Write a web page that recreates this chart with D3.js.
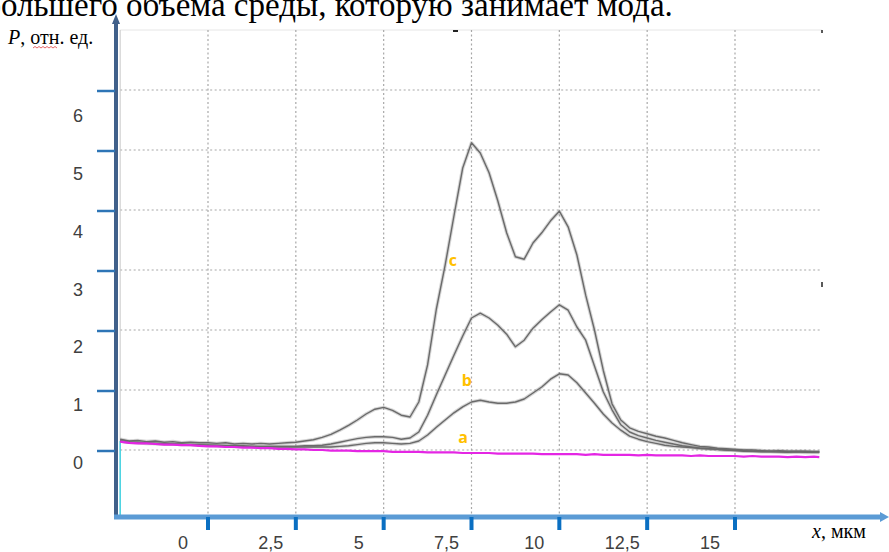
<!DOCTYPE html>
<html><head><meta charset="utf-8">
<script src="https://cdn.jsdelivr.net/npm/d3@7"></script>
<style>
html,body{margin:0;padding:0;background:#fff;overflow:hidden}
svg{display:block}
</style></head>
<body>
<svg id="chart" width="889" height="552"></svg>
<script>
// ---- data ----
const xValues = [-2.5,-2.25,-2,-1.75,-1.5,-1.25,-1,-0.75,-0.5,-0.25,
  0,0.25,0.5,0.75,1,1.25,1.5,1.75,2,2.25,
  2.5,2.75,3,3.25,3.5,3.75,4,4.25,4.5,4.75,
  5,5.25,5.5,5.75,6,6.25,6.5,6.75,7,7.25,
  7.5,7.75,8,8.25,8.5,8.75,9,9.25,9.5,9.75,
  10,10.25,10.5,10.75,11,11.25,11.5,11.75,12,12.25,
  12.5,12.75,13,13.25,13.5,13.75,14,14.25,14.5,14.75,
  15,15.25,15.5,15.75,16,16.25,16.5,16.75,17,17.25,17.4];
const curveC = [0.18,0.15,0.16,0.14,0.15,0.13,0.14,0.12,0.13,0.12,
  0.12,0.11,0.12,0.10,0.11,0.10,0.11,0.10,0.11,0.12,
  0.13,0.15,0.17,0.21,0.26,0.33,0.41,0.50,0.60,0.68,
  0.71,0.66,0.58,0.55,0.80,1.42,2.35,3.08,3.90,4.70,
  5.12,4.95,4.62,4.15,3.62,3.22,3.18,3.45,3.62,3.82,
  3.98,3.72,3.25,2.58,2.00,1.33,0.77,0.50,0.37,0.31,
  0.27,0.23,0.20,0.16,0.12,0.09,0.06,0.05,0.03,0.02,
  0.01,0.00,0.00,-0.01,-0.02,-0.01,-0.02,-0.02,-0.02,-0.03,-0.03];
const curveB = [0.15,0.13,0.13,0.12,0.11,0.11,0.10,0.10,0.09,0.09,
  0.08,0.08,0.07,0.07,0.07,0.06,0.06,0.06,0.06,0.06,
  0.06,0.07,0.07,0.08,0.10,0.13,0.16,0.19,0.21,0.22,
  0.22,0.21,0.18,0.20,0.30,0.58,0.92,1.25,1.58,1.90,
  2.20,2.28,2.20,2.08,1.93,1.72,1.83,2.03,2.17,2.30,
  2.42,2.33,2.05,1.83,1.40,0.97,0.67,0.42,0.30,0.24,
  0.20,0.16,0.13,0.10,0.07,0.05,0.03,0.02,0.01,0.00,
  -0.01,-0.02,-0.02,-0.03,-0.03,-0.03,-0.04,-0.03,-0.04,-0.04,-0.04];
const curveA = [0.15,0.13,0.12,0.11,0.11,0.10,0.10,0.09,0.09,0.08,
  0.08,0.07,0.07,0.06,0.06,0.06,0.05,0.05,0.05,0.05,
  0.05,0.05,0.05,0.05,0.05,0.06,0.07,0.09,0.11,0.12,
  0.12,0.11,0.10,0.11,0.15,0.25,0.38,0.50,0.62,0.72,
  0.80,0.83,0.80,0.78,0.78,0.80,0.85,0.95,1.05,1.18,
  1.27,1.25,1.12,0.95,0.78,0.60,0.45,0.33,0.23,0.18,
  0.14,0.11,0.08,0.06,0.05,0.04,0.03,0.02,0.01,0.00,
  0.00,-0.01,-0.02,-0.02,-0.02,-0.03,-0.03,-0.03,-0.03,-0.03,-0.03];
const baseline = [0.14,0.12,0.11,0.11,0.10,0.09,0.09,0.08,0.08,0.07,
  0.06,0.06,0.05,0.05,0.04,0.04,0.03,0.03,0.02,0.02,
  0.01,0.01,0.00,0.00,-0.01,-0.01,-0.01,-0.02,-0.02,-0.02,
  -0.02,-0.03,-0.03,-0.03,-0.03,-0.04,-0.04,-0.04,-0.04,-0.05,
  -0.05,-0.05,-0.05,-0.06,-0.06,-0.06,-0.06,-0.06,-0.07,-0.07,
  -0.07,-0.07,-0.07,-0.08,-0.07,-0.08,-0.08,-0.08,-0.08,-0.09,
  -0.08,-0.09,-0.09,-0.09,-0.09,-0.10,-0.09,-0.10,-0.10,-0.10,
  -0.10,-0.11,-0.10,-0.11,-0.11,-0.11,-0.12,-0.11,-0.12,-0.11,-0.12];
const xTicks = [0,2.5,5,7.5,10,12.5,15];
const xTickLabels = ["0","2,5","5","7,5","10","12,5","15"];
const yTicks = [0,1,2,3,4,5,6];
const curveLabels = ["a","b","c"];
const curveLabelX = [7.26,7.37,6.97];
const curveLabelY = [0.12,1.07,3.07];
const titleText = "большего объема среды, которую занимает мода.";
const yAxisTitle = ["P", ", отн. ед."];
const xAxisTitle = ["x", ", мкм"];

// ---- drawing ----
const svg = d3.select("#chart");
const x = d3.scaleLinear().domain([0,15]).range([208,735]);
const y = d3.scaleLinear().domain([0,7]).range([450,30]);
const plotLeft = x(-2.5), plotRight = 822, plotTop = y(7), axisY = 517, axisX = 116;
const yLabelPos = d3.scaleLinear().domain([0,6]).range([y(0)+19, y(6)+32]);

// title (cropped at top-left, as in the source figure)
const tmp = svg.append("text").attr("font-family","Liberation Serif").attr("font-size",33).text("б");
const bw = tmp.node().getComputedTextLength(); tmp.remove();
svg.append("text").attr("x",-bw+1).attr("y",16)
  .attr("font-family","Liberation Serif, Times New Roman, serif").attr("font-size",33)
  .attr("fill","#000").text(titleText);

// grid
const g = svg.append("g");
g.append("line").attr("x1",plotLeft).attr("x2",plotRight).attr("y1",plotTop).attr("y2",plotTop)
  .attr("stroke","#e6e6e6").attr("stroke-width",1);
g.selectAll(".hg").data(yTicks).join("line")
  .attr("x1",plotLeft).attr("x2",plotRight).attr("y1",d=>y(d)).attr("y2",d=>y(d))
  .attr("stroke","#a8a8a8").attr("stroke-width",1.2).attr("stroke-dasharray","2,2.5");
g.selectAll(".vg").data(xTicks).join("line")
  .attr("x1",d=>x(d)).attr("x2",d=>x(d)).attr("y1",plotTop).attr("y2",axisY)
  .attr("stroke","#a8a8a8").attr("stroke-width",1.2).attr("stroke-dasharray","2,2.5");
g.append("line").attr("x1",plotLeft).attr("x2",plotLeft).attr("y1",plotTop).attr("y2",y(0.15))
  .attr("stroke","#c8c8c8").attr("stroke-width",1);
g.append("line").attr("x1",plotLeft).attr("x2",plotLeft).attr("y1",y(0.15)).attr("y2",axisY)
  .attr("stroke","#3fd0e0").attr("stroke-width",1.5);
g.append("line").attr("x1",453).attr("x2",458).attr("y1",plotTop+1).attr("y2",plotTop+1).attr("stroke","#222").attr("stroke-width",2);
g.append("line").attr("x1",plotRight).attr("x2",plotRight).attr("y1",plotTop).attr("y2",plotTop+3).attr("stroke","#222").attr("stroke-width",1.5);
g.append("line").attr("x1",plotRight).attr("x2",plotRight).attr("y1",y(2.8)).attr("y2",y(2.8)+5).attr("stroke","#222").attr("stroke-width",1.5);

// curves
const pts = arr => arr.map((v,i)=>[xValues[i],v]);
const line = d3.line().x(d=>x(d[0])).y(d=>y(d[1]));
const greys = [curveA, curveB, curveC];
svg.append("g").selectAll("path.fz").data(greys).join("path")
  .attr("d",d=>line(pts(d))).attr("fill","none").attr("stroke","#8a8a8a")
  .attr("stroke-width",3.5).attr("stroke-opacity",0.35).attr("stroke-linejoin","round");
svg.append("g").selectAll("path.cv").data(greys).join("path")
  .attr("d",d=>line(pts(d))).attr("fill","none").attr("stroke","#6a6a6a")
  .attr("stroke-width",1.4).attr("stroke-linejoin","round");
svg.append("path").attr("d",line(pts(baseline))).attr("fill","none")
  .attr("stroke","#e426e4").attr("stroke-width",2.2);

// curve labels
svg.append("g").selectAll("text").data(curveLabels).join("text")
  .attr("x",(d,i)=>x(curveLabelX[i])).attr("y",(d,i)=>y(curveLabelY[i]))
  .attr("text-anchor","middle").attr("font-family","Open Sans, sans-serif")
  .attr("font-weight","bold").attr("font-size",16).attr("fill","#ffc000").text(d=>d);

// y axis
svg.append("line").attr("x1",axisX).attr("x2",axisX).attr("y1",axisY+2).attr("y2",22)
  .attr("stroke","#40608a").attr("stroke-width",4);
svg.append("path").attr("d",`M${axisX-4},24 L${axisX},14 L${axisX+4},24 Z`).attr("fill","#40608a");
svg.append("g").selectAll("line").data(yTicks).join("line")
  .attr("x1",97).attr("x2",axisX-1).attr("y1",d=>y(d)+1).attr("y2",d=>y(d)+1)
  .attr("stroke","#2e75b6").attr("stroke-width",2.5);
svg.append("g").selectAll("text").data(yTicks).join("text")
  .attr("x",78).attr("y",d=>yLabelPos(d)).attr("text-anchor","middle")
  .attr("font-family","Liberation Sans, Arial, sans-serif").attr("font-size",18)
  .attr("fill","#404040").text(d=>d);

// x axis
svg.append("line").attr("x1",axisX-2).attr("x2",882).attr("y1",axisY).attr("y2",axisY)
  .attr("stroke","#5b9bd5").attr("stroke-width",5);
svg.append("path").attr("d",`M880,${axisY-5} L889,${axisY} L880,${axisY+5} Z`).attr("fill","#5b9bd5");
svg.append("g").selectAll("rect").data(xTicks).join("rect")
  .attr("x",d=>x(d)-2).attr("y",axisY).attr("width",4).attr("height",13).attr("fill","#0a6fc2");
svg.append("g").selectAll("text").data(xTicks).join("text")
  .attr("x",d=>x(d)-25).attr("y",axisY+32).attr("text-anchor","middle")
  .attr("font-family","Liberation Sans, Arial, sans-serif").attr("font-size",18)
  .attr("fill","#404040").text((d,i)=>xTickLabels[i]);

// axis titles
const yt = svg.append("text").attr("x",8).attr("y",44)
  .attr("font-family","Liberation Serif, Times New Roman, serif").attr("font-size",20).attr("fill","#000");
yt.append("tspan").attr("font-style","italic").text(yAxisTitle[0]);
yt.append("tspan").text(yAxisTitle[1]);
svg.append("path").attr("d","M33,48 l2,-1.5 l2,1.5 l2,-1.5 l2,1.5 l2,-1.5 l2,1.5 l2,-1.5 l2,1.5 l2,-1.5 l2,1.5 l2,-1.5 l2,1.5")
  .attr("fill","none").attr("stroke","#e04040").attr("stroke-width",0.8);
const xt = svg.append("text").attr("x",812).attr("y",538)
  .attr("font-family","Liberation Serif, Times New Roman, serif").attr("font-size",20).attr("fill","#000");
xt.append("tspan").attr("font-style","italic").text(xAxisTitle[0]);
xt.append("tspan").text(xAxisTitle[1]);
</script>
</body></html>
